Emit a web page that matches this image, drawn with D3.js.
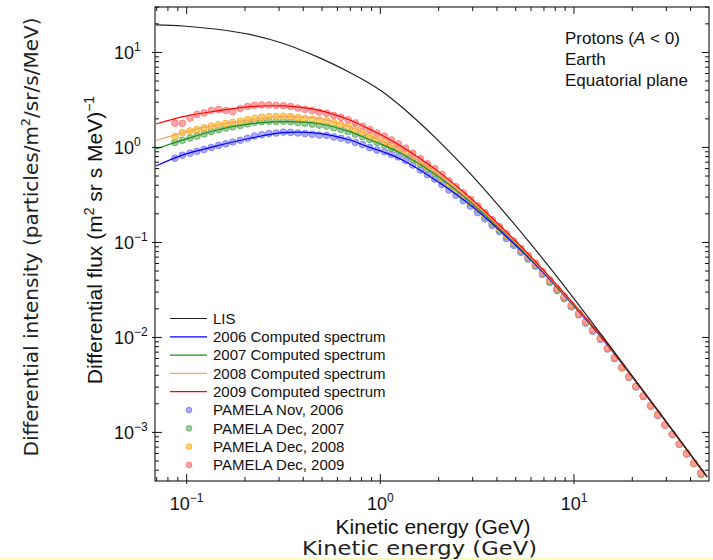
<!DOCTYPE html>
<html><head><meta charset="utf-8">
<script src="https://cdn.jsdelivr.net/npm/d3@7"></script>
<style>body{margin:0;background:#fff}</style>
</head><body>
<svg id="c" width="713" height="560"></svg>
<script>
// ---------- DATA ----------
const lineEnergy = [0.0695, 0.0957, 0.143, 0.212, 0.313, 0.470, 0.695, 0.881, 1.03, 1.30, 1.95, 2.89, 4.27, 6.40, 9.46, 14.0, 48.7];
const lisFlux    = [19.47, 19.0, 17.55, 15.47, 12.5, 9.03, 6.16, 4.72, 3.84, 2.63, 1.232, 0.540, 0.2188, 0.0814, 0.0297, 0.01037, 0.00034];
const flux2006   = [0.638, 0.834, 1.038, 1.249, 1.432, 1.412, 1.198, 1.001, 0.900, 0.737, 0.447, 0.2522, 0.1258, 0.0569, 0.02423, 0.00973, 0.00034];
const flux2007   = [0.964, 1.200, 1.528, 1.768, 1.870, 1.798, 1.467, 1.206, 1.064, 0.852, 0.511, 0.2715, 0.132, 0.0584, 0.02462, 0.00986, 0.00034];
const flux2008   = [1.183, 1.433, 1.727, 1.947, 2.108, 2.031, 1.654, 1.338, 1.159, 0.906, 0.536, 0.285, 0.137, 0.0598, 0.02502, 0.00998, 0.00034];
const flux2009   = [1.766, 2.110, 2.422, 2.689, 2.734, 2.482, 1.947, 1.551, 1.325, 1.010, 0.577, 0.299, 0.142, 0.0613, 0.02542, 0.00998, 0.00034];

const pamelaEnergy = [0.087, 0.095, 0.104, 0.113, 0.123, 0.134, 0.146, 0.159, 0.173, 0.189,
  0.206, 0.224, 0.244, 0.266, 0.290, 0.316, 0.344, 0.375, 0.408, 0.445,
  0.484, 0.528, 0.575, 0.626, 0.682, 0.743, 0.810, 0.882, 0.961, 1.05,
  1.14, 1.24, 1.35, 1.47, 1.61, 1.75, 1.91, 2.08, 2.26, 2.46,
  2.68, 2.92, 3.18, 3.47, 3.78, 4.12, 4.48, 4.89, 5.32, 5.80,
  6.32, 6.88, 7.50, 8.17, 8.90, 9.69, 10.6, 11.5, 12.5, 13.7,
  14.9, 16.2, 17.7, 19.2, 20.9, 22.8, 24.9, 27.1, 29.5, 32.2,
  35.0, 38.2, 41.6, 45.3];
const pamela2006 = [0.769, 0.828, 0.871, 0.910, 0.953, 1.00, 1.05, 1.09, 1.14, 1.19,
  1.25, 1.32, 1.36, 1.40, 1.42, 1.45, 1.44, 1.42, 1.40, 1.38,
  1.35, 1.34, 1.29, 1.25, 1.20, 1.13, 1.07, 0.996, 0.939, 0.902,
  0.845, 0.795, 0.729, 0.653, 0.580, 0.517, 0.464, 0.407, 0.357, 0.314,
  0.276, 0.241, 0.206, 0.177, 0.151, 0.130, 0.110, 0.0930, 0.0788, 0.0668,
  0.0563, 0.0462, 0.0380, 0.0312, 0.0257, 0.0210, 0.0173, 0.0142, 0.0116, 0.00954,
  0.00755, 0.00600, 0.00477, 0.00379, 0.00301, 0.00239, 0.00189, 0.00151, 0.00119, 0.000951,
  0.000753, 0.000595, 0.000473, 0.000375];
const pamela2007 = [1.13, 1.19, 1.26, 1.32, 1.39, 1.47, 1.54, 1.60, 1.65, 1.70,
  1.77, 1.84, 1.87, 1.89, 1.88, 1.89, 1.87, 1.83, 1.80, 1.76,
  1.72, 1.68, 1.61, 1.55, 1.47, 1.38, 1.30, 1.21, 1.13, 1.06,
  0.989, 0.927, 0.840, 0.747, 0.666, 0.592, 0.532, 0.462, 0.399, 0.346,
  0.299, 0.258, 0.221, 0.188, 0.159, 0.136, 0.115, 0.0968, 0.0814, 0.0689,
  0.0577, 0.0473, 0.0388, 0.0318, 0.0261, 0.0213, 0.0175, 0.0144, 0.0118, 0.00967,
  0.00765, 0.00607, 0.00482, 0.00382, 0.00303, 0.00241, 0.00190, 0.00152, 0.00120, 0.000950,
  0.000750, 0.000592, 0.000470, 0.000360];
const pamela2008 = [1.30, 1.43, 1.49, 1.54, 1.61, 1.68, 1.73, 1.79, 1.84, 1.89,
  1.96, 2.03, 2.08, 2.11, 2.11, 2.13, 2.11, 2.06, 2.02, 1.99,
  1.94, 1.90, 1.82, 1.74, 1.65, 1.55, 1.44, 1.33, 1.24, 1.15,
  1.07, 0.987, 0.890, 0.789, 0.701, 0.623, 0.559, 0.485, 0.419, 0.364,
  0.315, 0.270, 0.231, 0.197, 0.166, 0.141, 0.119, 0.0999, 0.0839, 0.0707,
  0.0590, 0.0483, 0.0396, 0.0324, 0.0266, 0.0217, 0.0178, 0.0146, 0.0119, 0.00978,
  0.00773, 0.00613, 0.00475, 0.00385, 0.00305, 0.00242, 0.00191, 0.00156, 0.00120, 0.000953,
  0.000753, 0.000610, 0.000480, 0.000375];
const pamela2009 = [1.80, 1.80, 2.04, 2.23, 2.31, 2.45, 2.51, 2.45, 2.39, 2.57,
  2.70, 2.78, 2.80, 2.80, 2.77, 2.75, 2.70, 2.60, 2.52, 2.45,
  2.36, 2.29, 2.17, 2.07, 1.95, 1.81, 1.67, 1.54, 1.42, 1.32,
  1.20, 1.09, 0.985, 0.869, 0.764, 0.674, 0.599, 0.519, 0.446, 0.385,
  0.333, 0.285, 0.243, 0.206, 0.174, 0.147, 0.123, 0.103, 0.0865, 0.0726,
  0.0605, 0.0494, 0.0404, 0.0330, 0.0270, 0.0220, 0.0180, 0.0147, 0.0120, 0.00978,
  0.00773, 0.00613, 0.00486, 0.00385, 0.00305, 0.00242, 0.00191, 0.00152, 0.00120, 0.000953,
  0.000753, 0.000595, 0.000473, 0.000375];

const legendLabels = ["LIS", "2006 Computed spectrum", "2007 Computed spectrum", "2008 Computed spectrum", "2009 Computed spectrum",
  "PAMELA Nov, 2006", "PAMELA Dec, 2007", "PAMELA Dec, 2008", "PAMELA Dec, 2009"];
const xMajor = [0.1, 1, 10];
const xMajorExp = ["\u22121", "0", "1"];
const yMajor = [1e-3, 1e-2, 1e-1, 1, 10];
const yMajorExp = ["\u22123", "\u22122", "\u22121", "0", "1"];
const xMinor = [0.07,0.08,0.09, 0.2,0.3,0.4,0.5,0.6,0.7,0.8,0.9, 2,3,4,5,6,7,8,9, 20,30,40];
const yMinor = [4e-4,5e-4,6e-4,7e-4,8e-4,9e-4, 2e-3,3e-3,4e-3,5e-3,6e-3,7e-3,8e-3,9e-3,
  2e-2,3e-2,4e-2,5e-2,6e-2,7e-2,8e-2,9e-2, 0.2,0.3,0.4,0.5,0.6,0.7,0.8,0.9, 2,3,4,5,6,7,8,9, 20,30];
const annotation = ["Earth", "Equatorial plane"];

// ---------- CHART ----------
const W = 713, H = 560;
const L = 155, R = 709, T = 7, B = 481;
const svg = d3.select('#c');
svg.append('rect').attr('width', W).attr('height', H).attr('fill', '#fff');
svg.append('rect').attr('x', 0).attr('y', 558).attr('width', W).attr('height', 2).attr('fill', '#fcfcc4');

const x = d3.scaleLog().domain([0.0686, 49.8]).range([L, R]);
const y = d3.scaleLog().domain([3.08e-4, 30.1]).range([B, T]);

svg.append('defs').append('clipPath').attr('id', 'clip')
  .append('rect').attr('x', L).attr('y', T).attr('width', R - L).attr('height', B - T);
const plot = svg.append('g').attr('clip-path', 'url(#clip)');

const dotSeries = [
  {v: pamela2006, f: '#a2a2ff', s: '#7a7aff'},
  {v: pamela2007, f: '#8fcb8f', s: '#62ad62'},
  {v: pamela2008, f: '#ffcd5e', s: '#f2ac2a'},
  {v: pamela2009, f: '#ff9d9d', s: '#ff7474'}
];
dotSeries.forEach(s => {
  plot.append('g').selectAll('circle').data(pamelaEnergy.map((e, i) => [e, s.v[i]]))
    .join('circle')
    .attr('cx', d => x(d[0])).attr('cy', d => y(d[1])).attr('r', 3.3)
    .attr('fill', s.f).attr('fill-opacity', 0.9)
    .attr('stroke', s.s).attr('stroke-width', 0.9);
});

const line = d3.line().x(d => x(d[0])).y(d => y(d[1])).curve(d3.curveCatmullRom.alpha(0.5));
const lineSeries = [
  {v: flux2006, c: '#0000ff'},
  {v: flux2007, c: '#228b22'},
  {v: flux2008, c: '#f4a460'},
  {v: flux2009, c: '#ff0000'},
  {v: lisFlux, c: '#222222'}
];
lineSeries.forEach(s => {
  plot.append('path').datum(lineEnergy.map((e, i) => [e, s.v[i]]))
    .attr('d', line).attr('fill', 'none').attr('stroke', s.c).attr('stroke-width', 1.2);
});

// frame
svg.append('rect').attr('x', L).attr('y', T).attr('width', R - L).attr('height', B - T)
  .attr('fill', 'none').attr('stroke', '#111').attr('stroke-width', 1.1);

const tk = svg.append('g').attr('stroke', '#111').attr('stroke-width', 1);
xMajor.forEach(v => {
  tk.append('line').attr('x1', x(v)).attr('x2', x(v)).attr('y1', B + 3).attr('y2', B - 7);
  tk.append('line').attr('x1', x(v)).attr('x2', x(v)).attr('y1', T).attr('y2', T + 7);
});
xMinor.forEach(v => {
  tk.append('line').attr('x1', x(v)).attr('x2', x(v)).attr('y1', B).attr('y2', B - 4);
  tk.append('line').attr('x1', x(v)).attr('x2', x(v)).attr('y1', T).attr('y2', T + 4);
});
yMajor.forEach(v => {
  tk.append('line').attr('y1', y(v)).attr('y2', y(v)).attr('x1', L - 3).attr('x2', L + 7);
  tk.append('line').attr('y1', y(v)).attr('y2', y(v)).attr('x1', R - 7).attr('x2', R);
});
yMinor.forEach(v => {
  tk.append('line').attr('y1', y(v)).attr('y2', y(v)).attr('x1', L).attr('x2', L + 4);
  tk.append('line').attr('y1', y(v)).attr('y2', y(v)).attr('x1', R - 4).attr('x2', R);
});

const FONT = "'Liberation Sans', Arial, Helvetica, sans-serif";
function powLabel(g, px, py, exp, anchor) {
  const t = g.append('text').attr('x', px).attr('y', py).attr('text-anchor', anchor)
    .attr('font-family', FONT).attr('font-size', 18).attr('fill', '#111');
  t.append('tspan').text('10');
  t.append('tspan').attr('font-size', 12).attr('dy', -8).text(exp);
}
xMajor.forEach((v, i) => powLabel(svg, x(v), 510, xMajorExp[i], 'middle'));
yMajor.forEach((v, i) => powLabel(svg, 114, y(v) + 7, yMajorExp[i], 'start'));

// axis titles (inner)
svg.append('text').attr('x', 433).attr('y', 534).attr('text-anchor', 'middle')
  .attr('font-family', FONT).attr('font-size', 21).attr('fill', '#111').text('Kinetic energy (GeV)');
const yt = svg.append('text').attr('transform', 'translate(102,240) rotate(-90)').attr('text-anchor', 'middle')
  .attr('font-family', FONT).attr('font-size', 21).attr('fill', '#111');
yt.append('tspan').text('Differential flux (m');
yt.append('tspan').attr('font-size', 14).attr('dy', -8).text('2');
yt.append('tspan').attr('dy', 8).text(' sr s MeV)');
yt.append('tspan').attr('font-size', 14).attr('dy', -8).text('\u22121');

// axis titles (outer)
const DV = "'DejaVu Sans', Verdana, sans-serif";
svg.append('text').attr('x', 419.5).attr('y', 554.5).attr('text-anchor', 'middle')
  .attr('font-family', DV).attr('font-size', 19.5).attr('fill', '#222')
  .attr('textLength', 235).attr('lengthAdjust', 'spacingAndGlyphs').text('Kinetic energy (GeV)');
const yo = svg.append('text').attr('transform', 'translate(38,237) rotate(-90)').attr('text-anchor', 'middle')
  .attr('font-family', DV).attr('font-size', 20).attr('fill', '#222');
yo.append('tspan').text('Differential intensity (particles/m');
yo.append('tspan').attr('font-size', 13).attr('dy', -8).text('2');
yo.append('tspan').attr('dy', 8).text('/sr/s/MeV)');

// annotation
const an = svg.append('g').attr('font-family', FONT).attr('font-size', 17).attr('fill', '#111');
const a1 = an.append('text').attr('x', 565).attr('y', 44);
a1.append('tspan').text('Protons (');
a1.append('tspan').attr('font-style', 'italic').text('A');
a1.append('tspan').text(' < 0)');
annotation.forEach((s, i) => an.append('text').attr('x', 565).attr('y', 65 + i * 20.5).text(s));

// legend
const lineColors = ['#222222', '#0000ff', '#228b22', '#f4a460', '#ff0000'];
const lg = svg.append('g');
legendLabels.forEach((lab, i) => {
  const ly = 318.5 + i * 18.3;
  if (i < 5) {
    lg.append('line').attr('x1', 170).attr('x2', 207).attr('y1', ly).attr('y2', ly)
      .attr('stroke', lineColors[i]).attr('stroke-width', 1.2);
  } else {
    const d = dotSeries[i - 5];
    lg.append('circle').attr('cx', 189).attr('cy', ly).attr('r', 2.8)
      .attr('fill', d.f).attr('fill-opacity', 0.9).attr('stroke', d.s).attr('stroke-width', 0.9);
  }
  lg.append('text').attr('x', 213).attr('y', ly + 5.3).attr('font-family', FONT)
    .attr('font-size', 15).attr('fill', '#111').text(lab);
});
</script>
</body></html>
